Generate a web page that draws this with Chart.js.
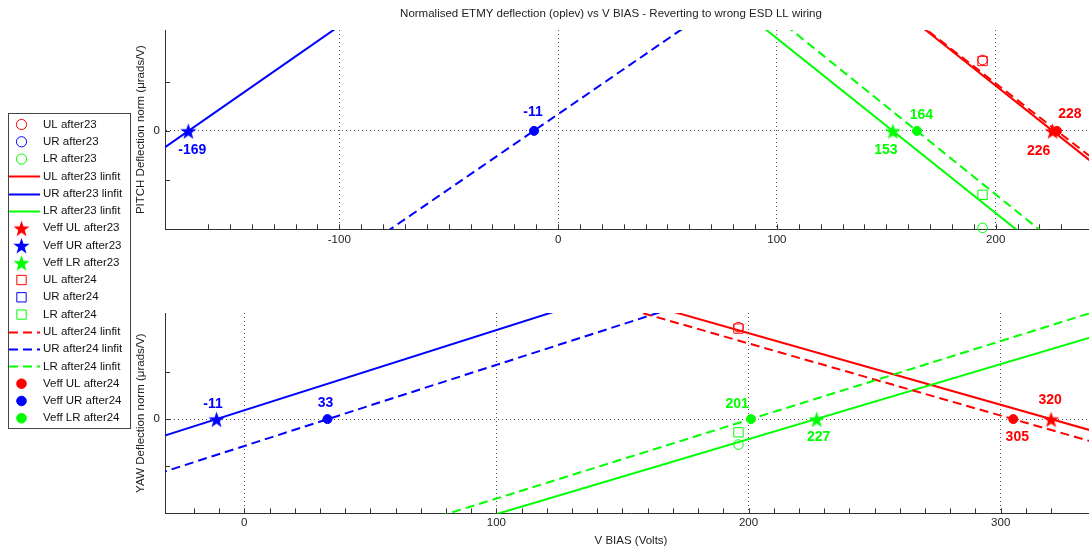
<!DOCTYPE html>
<html>
<head>
<meta charset="utf-8">
<script src="https://cdn.jsdelivr.net/npm/chart.js@4.4.1/dist/chart.umd.min.js"></script>
<style>
  html, body { margin: 0; padding: 0; background: #fff; overflow: hidden; width: 1089px; height: 548px; }
  canvas { position: absolute; top: 0; }
  #yawChart { left: 0; }
  #pitchChart { left: 125px; }
</style>
</head>
<body>
<canvas id="yawChart" width="1137" height="548"></canvas>
<canvas id="pitchChart" width="1012" height="260"></canvas>
<script>
// quadrant order used by every array below: UL, UR, LR
var quadrants = ['UL', 'UR', 'LR'];

// PITCH (top plot)
var pitchBias = 194;                       // V BIAS of the measured points
var pitchAfter23 = [1.44, 11.2, -1.97];
var pitchAfter24 = [1.42, 6.3, -1.30];
var pitchFitX = [-200, 260];
var pitchFit23 = [[15.04, -1.20], [-0.96, 13.26], [12.53, -3.80]];
var pitchFit24 = [[14.74, -1.10], [-5.76, 8.27], [13.03, -3.44]];
var pitchVeff23 = [226, -169, 153];
var pitchVeff24 = [228, -11, 164];

// YAW (bottom plot)
var yawBias = 196;
var yawAfter23 = [1.95, 3.52, -0.54];
var yawAfter24 = [1.92, 2.8, -0.28];
var yawFitX = [-50, 350];
var yawFit23 = [[5.62, -0.456], [-0.663, 6.14], [-4.40, 1.96]];
var yawFit24 = [[5.43, -0.69], [-1.43, 5.45], [-4.19, 2.49]];
var yawVeff23 = [320, -11, 227];
var yawVeff24 = [305, 33, 201];

// styles
var quadColors = ['#ff0000', '#0000ff', '#00ff00'];
var fontFamily = '"Liberation Sans", Arial, Helvetica, sans-serif';
// pixel offsets of the Veff value labels from their marker
var pitchOffsets23 = [[-14, 20], [4, 19.5], [-7, 19]];
var pitchOffsets24 = [[13, -17], [-1, -19], [4.5, -16]];
var yawOffsets23 = [[-1, -18.5], [-3.6, -15], [2, 18]];
var yawOffsets24 = [[4, 18], [-2, -16], [-14, -14.5]];

Chart.defaults.font.family = fontFamily;
Chart.defaults.font.size = 11.5;
Chart.defaults.color = '#222';

function makeStar(color, r) {
    var c = document.createElement('canvas');
    var s = Math.ceil(r * 2 + 2);
    c.width = s;
    c.height = s;
    var g = c.getContext('2d');
    g.fillStyle = color;
    g.beginPath();
    for (var i = 0; i < 10; i++) {
        var rad = i % 2 === 0 ? r : r * 0.4;
        var a = -Math.PI / 2 + i * Math.PI / 5;
        var px = s / 2 + rad * Math.cos(a), py = s / 2 + 1 + rad * Math.sin(a);
        if (i === 0) g.moveTo(px, py); else g.lineTo(px, py);
    }
    g.closePath();
    g.fill();
    return c;
}

function buildDatasets(bias, after23, after24, fitX, fit23, fit24, veff23, veff24) {
    var ds = [];
    quadrants.forEach(function (q, i) {
        ds.push({ label: q + ' after23', data: [{ x: bias, y: after23[i] }], showLine: false,
            pointStyle: 'circle', pointRadius: 4.8, borderColor: quadColors[i],
            backgroundColor: 'rgba(0,0,0,0)', borderWidth: 1, clip: 8 });
    });
    quadrants.forEach(function (q, i) {
        ds.push({ label: q + ' after23 linfit', data: fitX.map(function (x, k) { return { x: x, y: fit23[i][k] }; }),
            showLine: true, pointRadius: 0, borderColor: quadColors[i], borderWidth: 2 });
    });
    quadrants.forEach(function (q, i) {
        ds.push({ label: 'Veff ' + q + ' after23', data: [{ x: veff23[i], y: 0 }], showLine: false,
            pointStyle: makeStar(quadColors[i], 8.5), pointRadius: 8, borderColor: quadColors[i],
            backgroundColor: quadColors[i], clip: 8 });
    });
    quadrants.forEach(function (q, i) {
        ds.push({ label: q + ' after24', data: [{ x: bias, y: after24[i] }], showLine: false,
            pointStyle: 'rect', pointRadius: 6.6, borderColor: quadColors[i],
            backgroundColor: 'rgba(0,0,0,0)', borderWidth: 1, clip: 8 });
    });
    quadrants.forEach(function (q, i) {
        ds.push({ label: q + ' after24 linfit', data: fitX.map(function (x, k) { return { x: x, y: fit24[i][k] }; }),
            showLine: true, pointRadius: 0, borderColor: quadColors[i], borderWidth: 2, borderDash: [9, 5] });
    });
    quadrants.forEach(function (q, i) {
        ds.push({ label: 'Veff ' + q + ' after24', data: [{ x: veff24[i], y: 0 }], showLine: false,
            pointStyle: 'circle', pointRadius: 4.5, borderColor: quadColors[i],
            backgroundColor: quadColors[i], borderWidth: 1, clip: 8 });
    });
    // later series drawn on top, like the original
    ds.forEach(function (d, i) { d.order = -i; });
    return ds;
}

// short tick marks pointing into the axes
var inwardTicks = {
    id: 'inwardTicks',
    beforeDatasetsDraw: function (chart) {
        var ctx = chart.ctx, a = chart.chartArea, xs = chart.scales.x, ys = chart.scales.y;
        ctx.save();
        ctx.strokeStyle = '#333';
        ctx.lineWidth = 1;
        ctx.beginPath();
        xs.ticks.forEach(function (t) {
            if (t.value % 10 !== 0) return;
            var px = Math.round(xs.getPixelForValue(t.value)) + 0.5;
            ctx.moveTo(px, a.bottom);
            ctx.lineTo(px, a.bottom - 5);
        });
        ys.ticks.forEach(function (t) {
            if (t.value % 1 !== 0) return;
            var py = Math.round(ys.getPixelForValue(t.value)) + 0.5;
            ctx.moveTo(a.left, py);
            ctx.lineTo(a.left + 5, py);
        });
        ctx.stroke();
        ctx.restore();
    }
};

function veffLabels(values, offsets) {
    return {
        id: 'veffLabels',
        afterDatasetsDraw: function (chart) {
            var ctx = chart.ctx, xs = chart.scales.x, ys = chart.scales.y;
            ctx.save();
            ctx.font = 'bold 14px ' + fontFamily;
            ctx.textAlign = 'center';
            ctx.textBaseline = 'middle';
            values.forEach(function (v, i) {
                ctx.fillStyle = quadColors[i % 3];
                ctx.fillText(String(v), xs.getPixelForValue(v) + offsets[i][0], ys.getPixelForValue(0) + offsets[i][1]);
            });
            ctx.restore();
        }
    };
}

// MATLAB style legend box left of both plots
var boxLegend = {
    id: 'boxLegend',
    afterDraw: function (chart) {
        var ctx = chart.ctx;
        ctx.save();
        ctx.fillStyle = '#fff';
        ctx.fillRect(8.5, 113.5, 122, 315);
        ctx.strokeStyle = '#444';
        ctx.lineWidth = 1;
        ctx.strokeRect(8.5, 113.5, 122, 315);
        ctx.font = '11.5px ' + fontFamily;
        ctx.textBaseline = 'middle';
        chart.data.datasets.forEach(function (d, i) {
            var y = 124.5 + i * 17.28;
            var cx = 21.5;
            ctx.strokeStyle = d.borderColor;
            ctx.fillStyle = d.backgroundColor;
            ctx.lineWidth = d.borderWidth || 1;
            if (d.showLine) {
                ctx.setLineDash(d.borderDash || []);
                ctx.beginPath();
                ctx.moveTo(9, Math.round(y) + 0.5);
                ctx.lineTo(40, Math.round(y) + 0.5);
                ctx.stroke();
                ctx.setLineDash([]);
            } else if (d.pointStyle instanceof HTMLCanvasElement) {
                ctx.drawImage(d.pointStyle, cx - d.pointStyle.width / 2, y - d.pointStyle.height / 2);
            } else if (d.pointStyle === 'rect') {
                var h = d.pointRadius * Math.SQRT1_2;
                ctx.beginPath();
                ctx.rect(cx - h, y - h, 2 * h, 2 * h);
                ctx.fill();
                ctx.stroke();
            } else {
                ctx.beginPath();
                ctx.arc(cx, y, d.pointRadius + 0.3, 0, Math.PI * 2);
                ctx.fill();
                ctx.stroke();
            }
            ctx.fillStyle = '#111';
            ctx.fillText(d.label, 43, y);
        });
        ctx.restore();
    }
};

function xAxis(min, max, title, padding) {
    return {
        type: 'linear', min: min, max: max,
        ticks: { stepSize: 10, autoSkip: false, maxRotation: 0, padding: padding, color: '#222',
            callback: function (v) { return v % 100 === 0 ? String(v) : ''; } },
        grid: { drawTicks: false, lineWidth: 1,
            color: function (c) { return c.tick && c.tick.value % 100 === 0 ? '#555' : 'rgba(0,0,0,0)'; } },
        border: { display: true, color: '#333', width: 1, dash: [1, 3] },
        title: title ? { display: true, text: title, color: '#222', padding: { top: 1, bottom: 0 } } : { display: false }
    };
}

function yAxis(min, max, title) {
    return {
        type: 'linear', min: min, max: max,
        afterFit: function (s) { s.width = 40; },
        ticks: { stepSize: 1, autoSkip: false, padding: 5, color: '#222',
            callback: function (v) { return v === 0 ? '0' : ''; } },
        grid: { drawTicks: false, lineWidth: 1,
            color: function (c) { return c.tick && c.tick.value === 0 ? '#555' : 'rgba(0,0,0,0)'; } },
        border: { display: true, color: '#333', width: 1, dash: [1, 3] },
        title: { display: true, text: title, color: '#222', padding: { top: 9.1, bottom: 0 } }
    };
}

new Chart(document.getElementById('pitchChart'), {
    type: 'scatter',
    data: { datasets: buildDatasets(pitchBias, pitchAfter23, pitchAfter24, pitchFitX, pitchFit23, pitchFit24, pitchVeff23, pitchVeff24) },
    options: {
        responsive: false, animation: false, events: [],
        layout: { padding: { left: 0, right: 40, top: 0, bottom: 8.9 } },
        plugins: {
            legend: { display: false },
            tooltip: { enabled: false },
            title: { display: true, text: 'Normalised ETMY deflection (oplev) vs V BIAS - Reverting to wrong ESD LL wiring',
                color: '#222', font: { size: 11.5, weight: 'normal' }, padding: { top: 6.5, bottom: 9.7 } }
        },
        scales: {
            x: xAxis(-179.66, 246.3, null, 4),
            y: yAxis(-2.0, 2.05, 'PITCH Deflection norm (μrads/V)')
        }
    },
    plugins: [inwardTicks, veffLabels(pitchVeff23.concat(pitchVeff24), pitchOffsets23.concat(pitchOffsets24))]
});

new Chart(document.getElementById('yawChart'), {
    type: 'scatter',
    data: { datasets: buildDatasets(yawBias, yawAfter23, yawAfter24, yawFitX, yawFit23, yawFit24, yawVeff23, yawVeff24) },
    options: {
        responsive: false, animation: false, events: [],
        layout: { padding: { left: 125, right: 40, top: 313, bottom: 0 } },
        plugins: { legend: { display: false }, tooltip: { enabled: false } },
        scales: {
            x: xAxis(-31.45, 338.2, 'V BIAS (Volts)', 3),
            y: yAxis(-2.0, 2.25, 'YAW Deflection norm (μrads/V)')
        }
    },
    plugins: [inwardTicks, veffLabels(yawVeff23.concat(yawVeff24), yawOffsets23.concat(yawOffsets24)), boxLegend]
});
</script>
</body>
</html>
